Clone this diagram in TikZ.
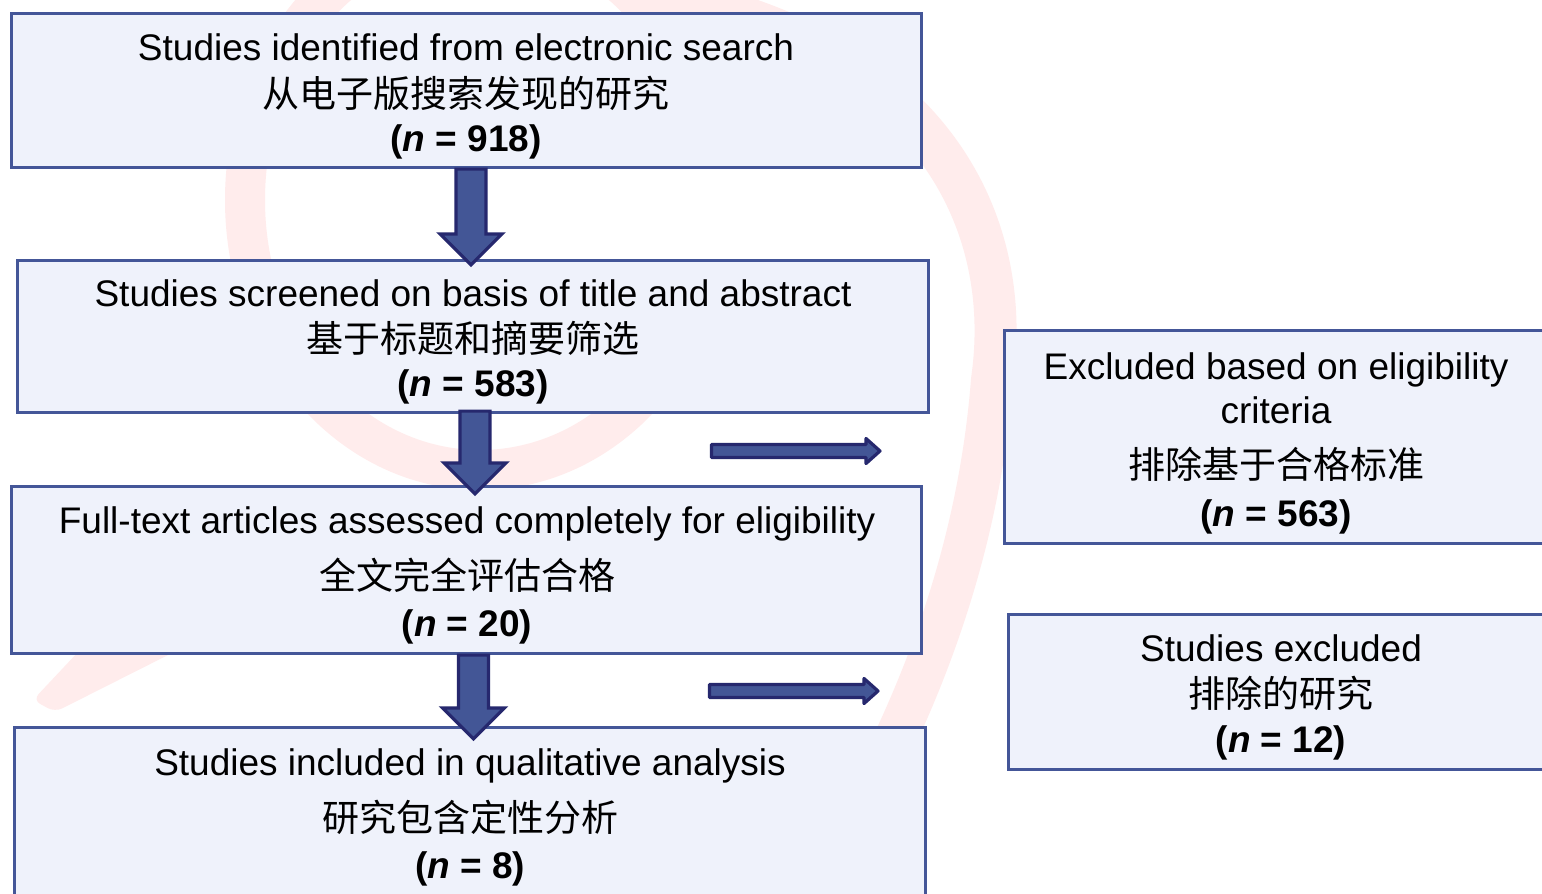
\documentclass[tikz,border=0pt]{standalone}
\usepackage{fontspec}
\setmainfont{Liberation Sans}
\newfontfamily\cjk{Noto Sans CJK SC}
\usetikzlibrary{calc}
\definecolor{boxline}{RGB}{68,86,152}
\definecolor{boxfill}{RGB}{239,242,251}
\definecolor{arrfill}{RGB}{67,86,150}
\definecolor{arrline}{RGB}{38,40,110}
\definecolor{wm}{RGB}{255,236,236}
\newcommand\nn[1]{\textbf{(\textit{n} = #1)}}
\newcommand\fatdown[2]{%
  \draw[fatarrow] let \p1=(#1), \p2=(#2) in
    (\x1-15pt,\y1) -- (\x1-15pt,\y2+31pt) -- (\x1-31pt,\y2+31pt) -- (\x1,\y2)
    -- (\x1+31pt,\y2+31pt) -- (\x1+15pt,\y2+31pt) -- (\x1+15pt,\y1) -- cycle;}
\newcommand\fatright[2]{%
  \draw[thinarrow] let \p1=(#1), \p2=(#2) in
    (\x1,\y1+6.5pt) -- (\x2-14pt,\y1+6.5pt) -- (\x2-14pt,\y1+12.5pt) -- (\x2,\y1)
    -- (\x2-14pt,\y1-12.5pt) -- (\x2-14pt,\y1-6.5pt) -- (\x1,\y1-6.5pt) -- cycle;}
\begin{document}
\begin{tikzpicture}[x=1pt,y=-1pt,
  box/.style={draw=boxline, fill=boxfill, line width=3.2pt, inner sep=0pt, rectangle},
  fatarrow/.style={fill=arrfill, draw=arrline, line width=3.2pt, line join=miter},
  thinarrow/.style={fill=arrfill, draw=arrline, line width=3.2pt, line join=round},
  txt/.style={anchor=base, inner sep=0pt, font=\fontsize{37}{44}\selectfont},
  zh/.style={anchor=base, inner sep=0pt, font=\fontsize{37}{44}\selectfont\cjk},
  wmark/.style={draw=wm, line cap=round}]
\useasboundingbox (0,0) rectangle (1542,894);
\fill[white] (0,0) rectangle (1542,894);
% faint watermark
\begin{scope}
  \clip (0,-20) rectangle (680,900);
  \draw[wmark, line width=40pt] (480,200) ellipse [x radius=235pt, y radius=270pt];
\end{scope}
\draw[wmark, line width=42pt] (640,-8) .. controls (930,40) and (1015,220) .. (992,380)
   .. controls (982,510) and (945,640) .. (880,770);
\fill[wm, rounded corners=8pt] (33,700) -- (80,650) -- (178,650) -- (55,712) -- cycle;
% boxes
\node[box, minimum width=910, minimum height=154] (b1) at (466.5,90.5) {};
\node[box, minimum width=911, minimum height=152] (b2) at (473,336.5) {};
\node[box, minimum width=910, minimum height=167] (b3) at (466.5,570) {};
\node[box, minimum width=911, minimum height=181] (b4) at (470,818) {};
\node[box, minimum width=564, minimum height=213] (b5) at (1286.5,437) {};
\node[box, minimum width=560, minimum height=155] (b6) at (1288.5,692) {};
% texts
\node[txt] (b1a) at (466,60) {Studies identified from electronic search};
\node[zh]  (b1b) at (466,107) {从电子版搜索发现的研究};
\node[txt] (b1c) at (466,151) {\nn{918}};
\node[txt] (b2a) at (473,306) {Studies screened on basis of title and abstract};
\node[zh]  (b2b) at (473,352) {基于标题和摘要筛选};
\node[txt] (b2c) at (473,396) {\nn{583}};
\node[txt] (b3a) at (467,533) {Full-text articles assessed completely for eligibility};
\node[zh]  (b3b) at (467,589) {全文完全评估合格};
\node[txt] (b3c) at (467,636) {\nn{20}};
\node[txt] (b4a) at (470,775) {Studies included in qualitative analysis};
\node[zh]  (b4b) at (470,831) {研究包含定性分析};
\node[txt] (b4c) at (470,878) {\nn{8}};
\node[txt] (b5a) at (1276,379) {Excluded based on eligibility};
\node[txt] (b5b) at (1276,423) {criteria};
\node[zh]  (b5c) at (1276,478) {排除基于合格标准};
\node[txt] (b5d) at (1276,526) {\nn{563}};
\node[txt] (b6a) at (1281,661) {Studies excluded};
\node[zh]  (b6b) at (1281,707) {排除的研究};
\node[txt] (b6c) at (1281,752) {\nn{12}};
% down arrows
\fatdown{$(b1.south)+(4.5,0)$}{$(b2.north)+(0,6)$}
\fatdown{$(b2.south)+(2,-3)$}{$(b3.north)+(0,9)$}
\fatdown{$(b3.south)+(7,0)$}{$(b4.north)+(0,13)$}
% side arrows
\coordinate (r1s) at (711.5,451);
\coordinate (r1e) at (880,451);
\coordinate (r2s) at (709.5,691);
\coordinate (r2e) at (878,691);
\fatright{r1s}{r1e}
\fatright{r2s}{r2e}
\end{tikzpicture}
\end{document}
